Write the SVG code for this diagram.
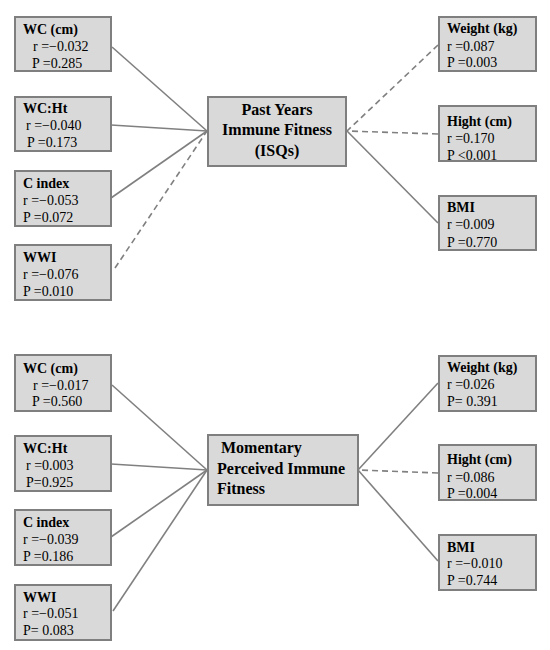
<svg xmlns="http://www.w3.org/2000/svg" width="550" height="650" viewBox="0 0 550 650">
<style>
.box{fill:#d9d9d9;stroke:#7f7f7f;stroke-width:2}
.t{font-family:"Liberation Serif","Times New Roman",serif;font-size:14px;fill:#000}
.b{font-weight:bold}
.c{font-family:"Liberation Serif","Times New Roman",serif;font-size:16px;font-weight:bold;fill:#000}
.ln{stroke:#808080;stroke-width:1.6;fill:none}
.d{stroke-dasharray:6 4}
</style>
<rect width="550" height="650" fill="#fff"/>
<g id="connectors">
<line class="ln" x1="112" y1="47" x2="207" y2="131"/>
<line class="ln" x1="111" y1="125" x2="207" y2="131"/>
<line class="ln" x1="111" y1="198" x2="207" y2="131"/>
<line class="ln d" x1="115" y1="268" x2="207" y2="131"/>
<line class="ln d" x1="438" y1="45" x2="347" y2="131"/>
<line class="ln d" x1="438" y1="134" x2="347" y2="131"/>
<line class="ln" x1="438" y1="223" x2="347" y2="131"/>
<line class="ln" x1="112" y1="385" x2="207" y2="470"/>
<line class="ln" x1="111" y1="464" x2="207" y2="470"/>
<line class="ln" x1="111" y1="537" x2="207" y2="470"/>
<line class="ln" x1="113" y1="611" x2="207" y2="470"/>
<line class="ln" x1="438" y1="383" x2="358" y2="470"/>
<line class="ln d" x1="438" y1="473" x2="358" y2="470"/>
<line class="ln" x1="438" y1="561" x2="358" y2="470"/>
</g>
<g id="top-wc"><rect class="box" x="15" y="17" width="96" height="54"/>
<text class="t b" x="23" y="34">WC (cm)</text><text class="t" x="33" y="51">r =−0.032</text><text class="t" x="32" y="68">P =0.285</text></g>
<g id="top-wcht"><rect class="box" x="15" y="97" width="96" height="54"/>
<text class="t b" x="23" y="113">WC:Ht</text><text class="t" x="26" y="130">r =−0.040</text><text class="t" x="27" y="147">P =0.173</text></g>
<g id="top-cindex"><rect class="box" x="15" y="171" width="96" height="55"/>
<text class="t b" x="23" y="188">C index</text><text class="t" x="23" y="205">r =−0.053</text><text class="t" x="23" y="222">P =0.072</text></g>
<g id="top-wwi"><rect class="box" x="15" y="245" width="96" height="55"/>
<text class="t b" x="23" y="262">WWI</text><text class="t" x="23" y="279">r =−0.076</text><text class="t" x="23" y="296">P =0.010</text></g>
<g id="top-center"><rect class="box" x="208" y="97" width="138" height="69"/>
<text class="c" x="277" y="115" text-anchor="middle">Past Years</text>
<text class="c" x="277" y="135" text-anchor="middle">Immune Fitness</text>
<text class="c" x="277" y="156" text-anchor="middle">(ISQs)</text></g>
<g id="top-weight"><rect class="box" x="439" y="17" width="97" height="54"/>
<text class="t b" x="447" y="33">Weight (kg)</text><text class="t" x="447" y="51">r =0.087</text><text class="t" x="447" y="67">P =0.003</text></g>
<g id="top-hight"><rect class="box" x="439" y="106" width="97" height="55"/>
<text class="t b" x="447" y="126">Hight (cm)</text><text class="t" x="447" y="143">r =0.170</text><text class="t" x="447" y="160">P &lt;0.001</text></g>
<g id="top-bmi"><rect class="box" x="439" y="196" width="97" height="54"/>
<text class="t b" x="447" y="212">BMI</text><text class="t" x="447" y="229">r =0.009</text><text class="t" x="447" y="247">P =0.770</text></g>
<g id="bot-wc"><rect class="box" x="15" y="355" width="96" height="56"/>
<text class="t b" x="23" y="373">WC (cm)</text><text class="t" x="33" y="390">r =−0.017</text><text class="t" x="32" y="406">P =0.560</text></g>
<g id="bot-wcht"><rect class="box" x="15" y="436" width="96" height="55"/>
<text class="t b" x="23" y="453">WC:Ht</text><text class="t" x="26" y="470">r =0.003</text><text class="t" x="26" y="487">P=0.925</text></g>
<g id="bot-cindex"><rect class="box" x="15" y="510" width="96" height="55"/>
<text class="t b" x="23" y="527">C index</text><text class="t" x="23" y="544">r =−0.039</text><text class="t" x="23" y="561">P =0.186</text></g>
<g id="bot-wwi"><rect class="box" x="15" y="585" width="96" height="55"/>
<text class="t b" x="23" y="602">WWI</text><text class="t" x="23" y="618">r =−0.051</text><text class="t" x="23" y="635">P= 0.083</text></g>
<g id="bot-center"><rect class="box" x="208" y="435" width="150" height="70"/>
<text class="c" x="221" y="453">Momentary</text>
<text class="c" x="217" y="474">Perceived Immune</text>
<text class="c" x="217" y="494">Fitness</text></g>
<g id="bot-weight"><rect class="box" x="439" y="356" width="97" height="55"/>
<text class="t b" x="447" y="372">Weight (kg)</text><text class="t" x="447" y="389">r =0.026</text><text class="t" x="447" y="406">P= 0.391</text></g>
<g id="bot-hight"><rect class="box" x="439" y="445" width="97" height="55"/>
<text class="t b" x="447" y="464">Hight (cm)</text><text class="t" x="447" y="482">r =0.086</text><text class="t" x="447" y="498">P =0.004</text></g>
<g id="bot-bmi"><rect class="box" x="439" y="535" width="97" height="55"/>
<text class="t b" x="447" y="552">BMI</text><text class="t" x="447" y="568">r =−0.010</text><text class="t" x="447" y="585">P =0.744</text></g>
</svg>
